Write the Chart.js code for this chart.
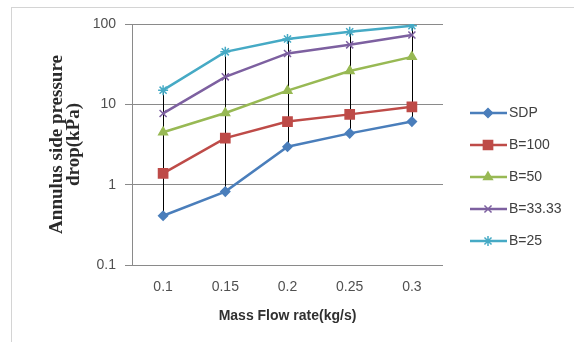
<!DOCTYPE html>
<html>
<head>
<meta charset="utf-8">
<script src="https://cdn.jsdelivr.net/npm/chart.js@4.4.1/dist/chart.umd.min.js"></script>
<style>
  html, body { margin: 0; padding: 0; background: #fff; }
  #wrap { position: relative; width: 574px; height: 342px; overflow: hidden; }
  #frame { position: absolute; left: 11px; top: 7px; width: 700px; height: 500px; border: 1px solid #d4d4d4; }
  #chart { position: absolute; left: 0; top: 0; }
</style>
</head>
<body>
<div id="wrap">
  <div id="frame"></div>
  <canvas id="chart" width="574" height="342"></canvas>
</div>
<script>
const flowRates = ['0.1', '0.15', '0.2', '0.25', '0.3'];
const sdp = [0.41, 0.82, 2.97, 4.35, 6.1];
const b100 = [1.38, 3.8, 6.1, 7.5, 9.3];
const b50 = [4.5, 7.8, 14.8, 26, 39];
const b33 = [7.7, 22, 43, 55, 73];
const b25 = [15, 45, 65, 80, 95];
const yTicks = [0.1, 1, 10, 100];

const tickFont = { family: 'Liberation Sans', size: 14 };
const gridGrey = '#8a8a8a';

function series(label, data, color, pointStyle, radius) {
  return {
    label, data, pointStyle,
    borderColor: color,
    backgroundColor: color,
    pointBackgroundColor: color,
    pointBorderColor: color,
    borderWidth: 2.5,
    pointRadius: radius,
    pointBorderWidth: 1.5,
    tension: 0
  };
}

// vertical black line joining the highest and lowest value at each flow rate
const hiLowLines = {
  id: 'hiLowLines',
  beforeDatasetsDraw(chart) {
    const { ctx, scales: { x, y } } = chart;
    ctx.save();
    ctx.strokeStyle = '#000';
    ctx.lineWidth = 1;
    flowRates.forEach((_, i) => {
      const vals = chart.data.datasets.map(ds => ds.data[i]);
      const px = Math.round(x.getPixelForValue(i)) + 0.5;
      ctx.beginPath();
      ctx.moveTo(px, y.getPixelForValue(Math.max(...vals)));
      ctx.lineTo(px, y.getPixelForValue(Math.min(...vals)));
      ctx.stroke();
    });
    ctx.restore();
  }
};

// legend on the right: short line with the series marker in the middle
const sideLegend = {
  id: 'sideLegend',
  afterDraw(chart) {
    const { ctx } = chart;
    ctx.save();
    chart.data.datasets.forEach((ds, i) => {
      const cy = 113 + i * 32;
      ctx.strokeStyle = ds.borderColor;
      ctx.fillStyle = ds.borderColor;
      ctx.lineWidth = 2.5;
      ctx.beginPath();
      ctx.moveTo(470, cy);
      ctx.lineTo(507, cy);
      ctx.stroke();
      ctx.lineWidth = 1.5;
      Chart.helpers.drawPoint(ctx, {
        pointStyle: ds.pointStyle, radius: ds.pointRadius, rotation: 0, borderWidth: 1.5
      }, 488, cy);
      ctx.fillStyle = '#404040';
      ctx.font = '14px "Liberation Sans"';
      ctx.textBaseline = 'middle';
      ctx.textAlign = 'left';
      ctx.fillText(ds.label, 509, cy);
    });
    ctx.restore();
  }
};

new Chart(document.getElementById('chart'), {
  type: 'line',
  data: {
    labels: flowRates,
    datasets: [
      series('SDP', sdp, '#4a7ebb', 'rectRot', 4.5),
      series('B=100', b100, '#be4b48', 'rect', 6.5),
      series('B=50', b50, '#98b954', 'triangle', 5),
      series('B=33.33', b33, '#7d60a0', 'crossRot', 5),
      series('B=25', b25, '#46aac5', 'star', 5)
    ]
  },
  options: {
    responsive: false,
    animation: false,
    layout: { padding: { left: 40, right: 131, top: 24, bottom: 17 } },
    plugins: {
      legend: { display: false },
      tooltip: { enabled: false }
    },
    scales: {
      x: {
        offset: true,
        grid: { display: false, drawTicks: false },
        border: { display: false },
        ticks: { padding: 14, font: tickFont, color: '#505050' },
        afterFit: s => { s.height = 60; },
        title: {
          display: true,
          text: 'Mass Flow rate(kg/s)',
          font: { family: 'Liberation Sans', size: 14, weight: 'bold' },
          color: '#303030',
          padding: 0
        }
      },
      y: {
        type: 'logarithmic',
        min: 0.1,
        max: 100,
        afterBuildTicks: s => { s.ticks = yTicks.map(v => ({ value: v })); },
        afterFit: s => { s.width = 92; },
        ticks: { padding: 9, font: tickFont, color: '#505050', callback: v => String(v) },
        grid: { color: gridGrey, tickLength: 7 },
        border: { color: gridGrey },
        title: {
          display: true,
          text: ['Annulus side pressure', 'drop(kPa)'],
          font: { family: 'Liberation Serif', size: 19, weight: 'bold', lineHeight: 0.92 },
          color: '#2a2a2a',
          padding: { top: 8, bottom: 0 }
        }
      }
    }
  },
  plugins: [hiLowLines, sideLegend]
});
</script>
</body>
</html>
